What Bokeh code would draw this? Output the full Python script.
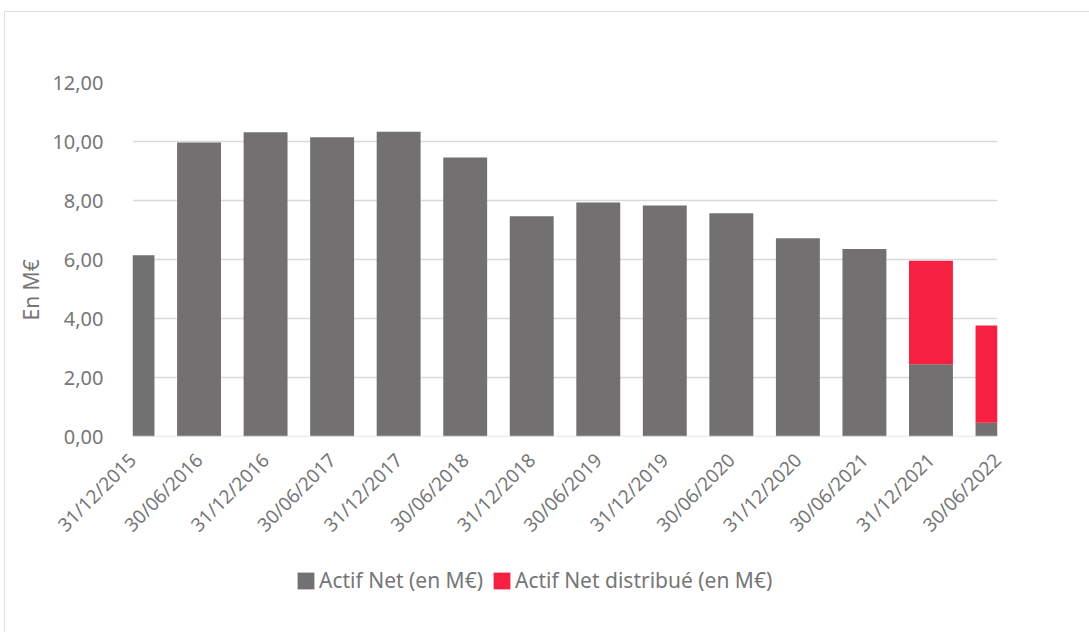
from bokeh.plotting import figure
from bokeh.layouts import column
from bokeh.models import Range1d, FixedTicker, Legend, LegendItem, Span, CustomJSTickFormatter, Title
from bokeh.embed import file_html
from bokeh.resources import INLINE
import math

dates = ["31/12/2015", "30/06/2016", "31/12/2016", "30/06/2017", "31/12/2017",
         "30/06/2018", "31/12/2018", "30/06/2019", "31/12/2019", "30/06/2020",
         "31/12/2020", "30/06/2021", "31/12/2021", "30/06/2022"]
actif_net = [6.14, 9.97, 10.31, 10.14, 10.33, 9.46, 7.47, 7.93, 7.83, 7.57,
             6.72, 6.36, 2.45, 0.47]
actif_distribue = [0, 0, 0, 0, 0, 0, 0, 0, 0, 0, 0, 0, 3.51, 3.29]
y_ticks = [0, 2, 4, 6, 8, 10, 12]
series_names = ["Actif Net (en M€)", "Actif Net distribué (en M€)"]
y_title = "En M€"

GRAY = "#727071"
RED = "#F62140"
TXT = "#767676"
FONT = "Noto Sans"

xs = list(range(len(dates)))
tops = [a + d for a, d in zip(actif_net, actif_distribue)]

p = figure(width=1084, height=548, output_backend="svg", toolbar_location=None,
           x_range=Range1d(0, len(dates) - 1), y_range=Range1d(0, 12),
           min_border_left=127, min_border_right=92, min_border_top=70,
           min_border_bottom=124)
p.outline_line_color = None
p.background_fill_color = "white"
p.border_fill_color = "white"

r1 = p.vbar(x=xs, top=actif_net, bottom=0, width=0.66, fill_color=GRAY, line_color=None)
r2 = p.vbar(x=xs, top=tops, bottom=actif_net, width=0.66, fill_color=RED, line_color=None)

p.add_layout(Span(location=0, dimension="width", line_color="#d9d9d9", line_width=1.5, level="overlay"))

# axes
p.xaxis.ticker = FixedTicker(ticks=xs)
p.xaxis.major_label_overrides = {i: d for i, d in enumerate(dates)}
p.xaxis.major_label_orientation = math.pi / 4
p.xaxis.axis_line_color = None
p.xaxis.major_tick_line_color = None
p.xaxis.minor_tick_line_color = None
p.xaxis.major_label_standoff = 14
p.xaxis.major_label_text_font = FONT
p.xaxis.major_label_text_font_size = "19px"
p.xaxis.major_label_text_color = TXT

p.yaxis.ticker = FixedTicker(ticks=y_ticks)
p.yaxis.formatter = CustomJSTickFormatter(code="return tick.toFixed(2).replace('.', ',');")
p.yaxis.axis_line_color = None
p.yaxis.major_tick_line_color = None
p.yaxis.minor_tick_line_color = None
p.yaxis.major_label_standoff = 23
p.yaxis.major_label_text_font = FONT
p.yaxis.major_label_text_font_size = "20px"
p.yaxis.major_label_text_color = TXT

yt = Title(text=y_title, align="left", offset=116, text_font=FONT,
           text_font_size="21px", text_font_style="normal", text_color=TXT)
p.add_layout(yt, "left")

p.xgrid.grid_line_color = None
p.ygrid.grid_line_color = "#d9d9d9"
p.ygrid.grid_line_width = 1.5

# legend strip (its glyphs sit outside the visible y range; only the legend shows)
lf = figure(width=1084, height=72, output_backend="svg", toolbar_location=None,
            x_range=Range1d(0, len(dates) - 1), y_range=Range1d(100, 101),
            min_border=0)
lf.axis.visible = False
lf.grid.visible = False
lf.outline_line_color = None
lf.border_fill_color = "white"
l1 = lf.vbar(x=xs, top=actif_net, width=0.66, fill_color=GRAY, line_color=None)
l2 = lf.vbar(x=xs, top=tops, bottom=actif_net, width=0.66, fill_color=RED, line_color=None)
legend = Legend(items=[LegendItem(label=series_names[0], renderers=[l1]),
                       LegendItem(label=series_names[1], renderers=[l2])],
                orientation="horizontal", location=(163, 38),
                padding=0, margin=0, spacing=8, label_standoff=3,
                glyph_width=21, glyph_height=21, label_height=21,
                border_line_color=None, background_fill_alpha=0)
legend.label_text_font = FONT
legend.label_text_font_size = "21px"
legend.label_text_color = TXT
lf.add_layout(legend, "center")

layout = column(p, lf, spacing=0,
                styles={"margin-left": "4px", "margin-top": "11px",
                        "border-left": "1px solid #dedede", "border-top": "1px solid #dedede"})

open("out.html", "w").write(file_html(layout, INLINE))
